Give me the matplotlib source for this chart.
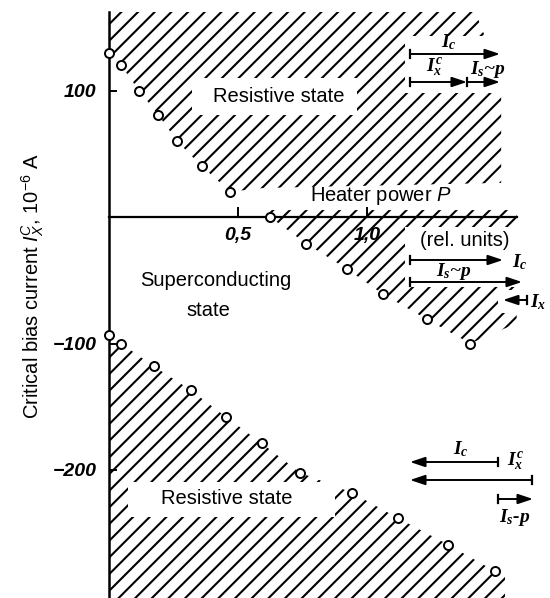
import matplotlib
matplotlib.use("Agg")
import matplotlib.pyplot as plt
from matplotlib.patches import Polygon, Rectangle
from matplotlib.lines import Line2D

plt.rcParams['font.family'] = ['Liberation Sans', 'DejaVu Sans']
plt.rcParams['mathtext.fontset'] = 'custom'
plt.rcParams['mathtext.rm'] = 'Liberation Sans'
plt.rcParams['mathtext.sf'] = 'Liberation Sans:italic'
plt.rcParams['mathtext.it'] = 'Liberation Serif:italic:bold'
plt.rcParams['hatch.linewidth'] = 1.5

# heater power P (rel. units) and critical bias current (10^-6 A)
p_upper = [0.0, 0.047, 0.116, 0.19, 0.264, 0.36, 0.47, 0.624, 0.764, 0.922, 1.062, 1.233, 1.40]
i_upper = [130, 120, 100, 81, 60, 40, 20, 0, -21, -41, -61, -81, -100]
p_lower = [0.0, 0.047, 0.174, 0.318, 0.453, 0.593, 0.74, 0.942, 1.12, 1.314, 1.496]
i_lower = [-93, -100, -118, -137, -158, -179, -202, -218, -238, -259, -280]

y_ticks = [100, -100, -200]
y_tick_labels = ["100", "\u2212100", "\u2212200"]
x_ticks = [0.5, 1.0]
x_tick_labels = ["0,5", "1,0"]

W, H = 550, 598
Y_TOP, Y_BOT = 162.1, -301.2


def fxy(x, y):
    # reference pixel -> figure fraction
    return x / W, 1 - y / H


fig = plt.figure(figsize=(W / 100, H / 100), dpi=100)
ax = fig.add_axes([109 / W, 0, 1.6 * 258 / W, 586 / H])

# hatched (resistive) regions
n0 = i_upper.index(0)
pos = list(zip(p_upper[:n0], i_upper[:n0]))
neg = list(zip(p_upper[n0:], i_upper[n0:]))
low = list(zip(p_lower, i_lower))

regions = [
    [(0, Y_TOP)] + pos + [(0.6, 23), (1.52, 27), (1.52, 110), (1.42, Y_TOP)],
    neg + [(1.58, -84), (1.58, 5.5), (p_upper[n0], 5.5)],
    low + [(1.535, i_lower[-1]), (1.535, Y_BOT), (0, Y_BOT)],
]
for verts in regions:
    ax.add_patch(Polygon(verts, closed=True, fill=False, hatch='//',
                         edgecolor='black', linewidth=0, zorder=1))

# white gaps in the hatching (text and arrow areas)
for x0, y0, x1, y1 in [(192, 78, 357, 115), (405, 36, 520, 93), (405, 227, 532, 287),
                       (498, 290, 550, 313), (128, 482, 335, 517), (305, 187, 458, 206)]:
    ax.add_patch(Rectangle(fxy(x0, y1), (x1 - x0) / W, (y1 - y0) / H,
                           transform=fig.transFigure, facecolor='white',
                           edgecolor='none', zorder=2))

ax.plot(p_upper, i_upper, 'o', ms=6.5, mfc='white', mec='black', mew=1.4, zorder=5, clip_on=False)
ax.plot(p_lower, i_lower, 'o', ms=6.5, mfc='white', mec='black', mew=1.4, zorder=5, clip_on=False)

ax.set_xlim(0, 1.6)
ax.set_ylim(Y_BOT, Y_TOP)
ax.patch.set_alpha(0)
for s in ['top', 'right']:
    ax.spines[s].set_visible(False)
ax.spines['left'].set_linewidth(1.8)
ax.spines['bottom'].set_position(('data', 0))
ax.spines['bottom'].set_bounds(0, 1.58)
ax.spines['bottom'].set_linewidth(1.6)
ax.spines['bottom'].set_zorder(3)

tick_font = dict(family='Liberation Sans', weight='bold', style='italic', size=14)
ax.set_yticks(y_ticks)
ax.set_yticklabels(y_tick_labels, fontdict=tick_font)
ax.set_xticks(x_ticks)
ax.set_xticklabels(x_tick_labels, fontdict=tick_font)
ax.tick_params(axis='y', direction='in', length=6, width=1.4, pad=9)
ax.tick_params(axis='x', direction='in', length=7, width=1.4, pad=7)

fig.text(33 / W, 1 - 286 / H, r"Critical bias current $\mathsf{I}_{\mathsf{X}}^{\mathsf{C}}$, 10$^{-6}$ A",
         rotation=90, ha='center', va='center', fontsize=14.5)

txt = dict(ha='center', va='center', fontsize=14.5, zorder=6)
fig.text(*fxy(279, 96), "Resistive state", **txt)
fig.text(*fxy(381, 196), r"Heater power $\mathsf{P}$", **txt)
fig.text(*fxy(465, 240), "(rel. units)", **txt)
fig.text(*fxy(216, 281), "Superconducting", **txt)
fig.text(*fxy(208, 311), "state", **txt)
fig.text(*fxy(227, 499), "Resistive state", **txt)

# current arrows: (tail x, head x, y, bar at x)
arrows = [
    (410, 500, 54, 410), (410, 467, 82, 410), (467, 500, 82, 467),
    (410, 503, 260, 410), (410, 522, 282, 410), (527, 503, 300, 527),
    (498, 410, 462, 498), (532, 410, 480, 532), (498, 533, 499, 498),
]
for x0, x1, y, xb in arrows:
    ax.annotate("", xy=fxy(x1, y), xytext=fxy(x0, y), xycoords='figure fraction',
                textcoords='figure fraction', annotation_clip=False,
                arrowprops=dict(arrowstyle='-|>,head_length=0.9,head_width=0.3',
                                lw=1.4, color='black', shrinkA=0, shrinkB=0,
                                mutation_scale=10), zorder=4)
    bx, by0 = fxy(xb, y - 4)
    _, by1 = fxy(xb, y + 4)
    fig.add_artist(Line2D([bx, bx], [by0, by1], color='black', lw=1.6))

lab = dict(ha='center', va='center', fontsize=14, family='Liberation Serif',
           weight='bold', style='italic')
for x, y, s in [(449, 42, r"$I_c$"), (434, 68, r"$I_x^c$"), (488, 70, r"$I_s$~$p$"),
                (520, 262, r"$I_c$"), (454, 271, r"$I_s$~$p$"), (538, 302, r"$I_x$"),
                (461, 449, r"$I_c$"), (515, 462, r"$I_x^c$"), (515, 518, r"$I_s$-$p$")]:
    fig.text(*fxy(x, y), s, **lab)

fig.savefig("out.png", dpi=100)
